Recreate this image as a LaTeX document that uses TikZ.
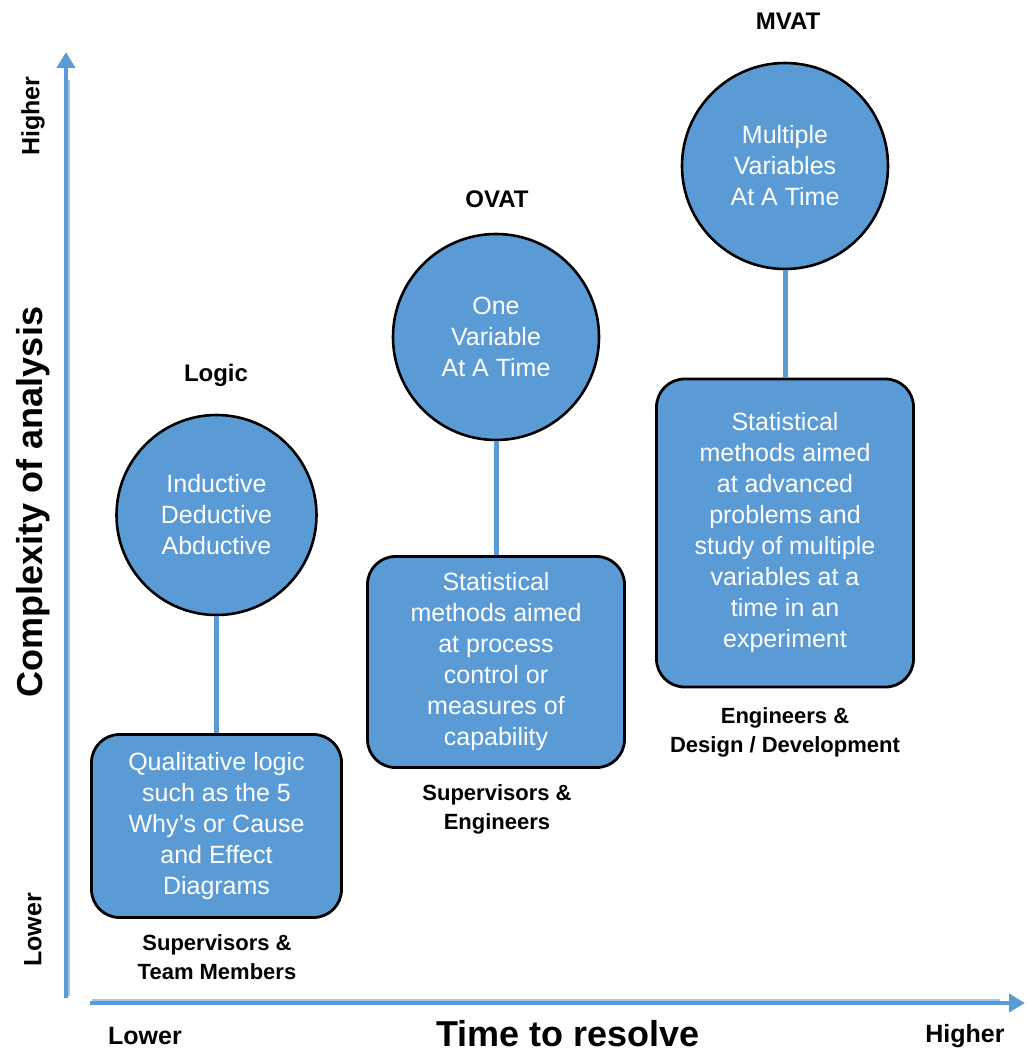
\documentclass[tikz,border=0pt]{standalone}
\usepackage{fontspec}
\setmainfont{Liberation Sans}
\usetikzlibrary{arrows.meta}
\definecolor{fillblue}{RGB}{91,155,213}
\definecolor{axisblue}{RGB}{91,155,213}
\definecolor{axislight}{RGB}{160,200,236}
\begin{document}
\begin{tikzpicture}[x=1pt,y=-1pt,
  bubble/.style={circle,draw=black,line width=2.6pt,fill=fillblue,text=white,minimum size=#1,inner sep=0pt,align=center,font=\fontsize{25}{31}\selectfont},
  card/.style={rectangle,rounded corners=28pt,draw=black,line width=2.8pt,fill=fillblue,text=white,align=center,font=\fontsize{25}{31}\selectfont,inner sep=0pt},
  heading/.style={font=\bfseries\fontsize{24}{29}\selectfont,align=center},
  who/.style={font=\bfseries\fontsize{22}{29}\selectfont,align=center},
  axislbl/.style={font=\bfseries\fontsize{25}{30}\selectfont},
  link/.style={draw=axisblue,line width=5pt},
  axisline/.style={draw=axisblue,line width=4.5pt,-{Triangle[length=16pt,width=18pt]}},
  axisinner/.style={draw=axislight,line width=1.5pt}
]
\useasboundingbox (0,0) rectangle (1025,1056);

% axes
\coordinate (yb) at (66,998);
\coordinate (yt) at (66,52);
\coordinate (xl) at (90,1003);
\coordinate (xr) at (1025,1003);
\draw[axisline] (yb) -- (yt);
\draw[axisinner] (69,996) -- (69,80);
\draw[axisline] (xl) -- (xr);
\draw[axisinner] (92,1000) -- (1000,1000);

\node[axislbl,rotate=90] (yhi) at (33,116) {Higher};
\node[axislbl,rotate=90] (ylo) at (33,930) {Lower};
\node[font=\bfseries\fontsize{36}{40}\selectfont,rotate=90] (ytitle) at (33,502) {Complexity of analysis};
\node[axislbl] (xlo) at (145,1036) {Lower};
\node[axislbl] (xhi) at (965,1036) {Higher};
\node[font=\bfseries\fontsize{36}{40}\selectfont] (xtitle) at (568,1034) {Time to resolve};

% circles
\node[bubble=200pt] (logic) at (216.5,515) {Inductive\\Deductive\\Abductive};
\node[bubble=206pt] (ovat) at (496,337) {One\\Variable\\At A Time};
\node[bubble=206pt] (mvat) at (785,166) {Multiple\\Variables\\At A Time};

\node[heading] (tlogic) at (216,375) {Logic};
\node[heading] (tovat) at (497,199) {OVAT};
\node[heading] (tmvat) at (788,21) {MVAT};

% boxes
\node[card,minimum width=250pt,minimum height=183pt] (b1) at (216.5,826) {Qualitative logic\\such as the 5\\Why’s or Cause\\and Effect\\Diagrams};
\node[card,minimum width=257pt,minimum height=211pt] (b2) at (496,662) {Statistical\\methods aimed\\at process\\control or\\measures of\\capability};
\node[card,minimum width=257pt,minimum height=308pt] (b3) at (785,533) {Statistical\\methods aimed\\at advanced\\problems and\\study of multiple\\variables at a\\time in an\\experiment};

% connectors
\draw[link] (logic.south) -- (b1.north);
\draw[link] (ovat.south) -- (b2.north);
\draw[link] (mvat.south) -- (b3.north);

% who
\node[who] (w1) at (217,957) {Supervisors \&\\Team Members};
\node[who] (w2) at (497,809) {Supervisors \&\\Engineers};
\node[who] (w3) at (785,732) {Engineers \&\\Design / Development};
\end{tikzpicture}
\end{document}
